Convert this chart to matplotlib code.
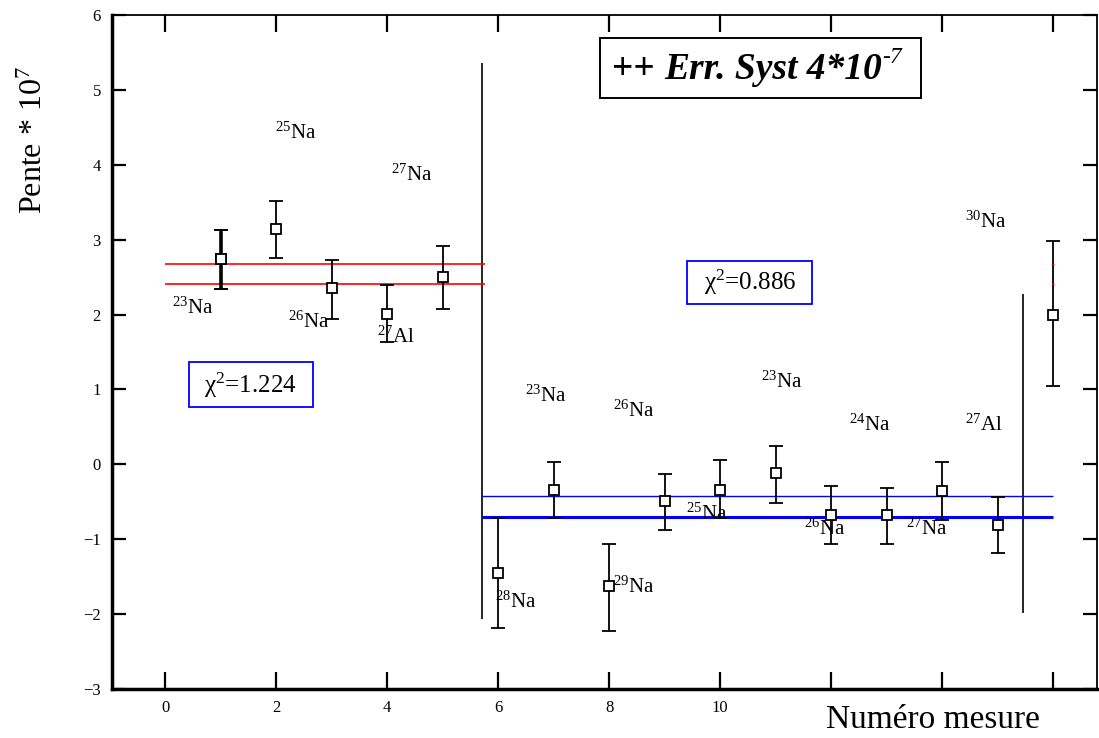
import matplotlib
matplotlib.use("Agg")
import matplotlib.pyplot as plt
from matplotlib.patches import Rectangle

plt.rcParams['font.family'] = ['Liberation Serif', 'DejaVu Serif']
plt.rcParams['mathtext.fontset'] = 'custom'
plt.rcParams['mathtext.rm'] = 'Liberation Serif'
plt.rcParams['mathtext.it'] = 'Liberation Serif:italic'
plt.rcParams['mathtext.bf'] = 'Liberation Serif:bold'

# ---- data ----
meas_x = [1, 2, 3, 4, 5, 6, 7, 8, 9, 10, 11, 12, 13, 14, 15, 16]
slope = [2.74, 3.14, 2.35, 2.01, 2.50, -1.45, -0.34, -1.63, -0.49, -0.34,
         -0.12, -0.67, -0.67, -0.36, -0.81, 2.00]
err_low = [2.34, 2.75, 1.94, 1.63, 2.07, -2.18, -0.72, -2.22, -0.88, -0.72,
           -0.52, -1.07, -1.07, -0.74, -1.18, 1.05]
err_high = [3.13, 3.51, 2.73, 2.39, 2.92, -0.72, 0.03, -1.07, -0.13, 0.06,
            0.24, -0.29, -0.32, 0.03, -0.43, 2.98]

red_levels = [2.67, 2.41]
red_span = [0.0, 5.77]
blue_levels = [-0.42, -0.70]
blue_widths = [1.0, 2.2]
blue_span = [5.71, 16.0]

sep_x = [5.71, 15.46]
sep_low = [-2.07, -1.99]
sep_high = [5.36, 2.28]

labels = ["23", "25", "26", "27", "27",
          "23", "26", "23", "24", "27", "30",
          "25", "26", "27", "28", "29"]
label_elem = ["Na", "Na", "Na", "Al", "Na",
              "Na", "Na", "Na", "Na", "Al", "Na",
              "Na", "Na", "Na", "Na", "Na"]
label_x = [0.12, 1.98, 2.22, 3.82, 4.08,
           6.48, 8.07, 10.73, 12.32, 14.41, 14.41,
           9.38, 11.52, 13.35, 5.95, 8.07]
label_y = [2.08, 4.42, 1.90, 1.70, 3.86,
           0.91, 0.71, 1.10, 0.52, 0.52, 3.23,
           -0.67, -0.86, -0.86, -1.84, -1.64]

chi_values = ["1.224", "0.886"]
chi_box_x = [(0.43, 2.66), (9.41, 11.66)]
chi_box_y = [(0.76, 1.36), (2.14, 2.72)]

xticks = [0, 2, 4, 6, 8, 10, 12, 14, 16]
xticklabels = ["0", "2", "4", "6", "8", "10", "", "", ""]
yticks = [-3, -2, -1, 0, 1, 2, 3, 4, 5, 6]

# ---- figure ----
fig = plt.figure(figsize=(10.99, 7.38), dpi=100)
ax = fig.add_axes([112/1099, 1-689/738, (1097-112)/1099, (689-15)/738])
ax.set_xlim(-0.955, 16.79)
ax.set_ylim(-3, 6)

# separators
ax.vlines(sep_x, sep_low, sep_high, colors='black', lw=1.2, zorder=2)

# fit lines
ax.hlines(red_levels, red_span[0], red_span[1], colors='red', lw=1.2, zorder=3)
for lev, w in zip(blue_levels, blue_widths):
    ax.hlines(lev, blue_span[0], blue_span[1], colors='blue', lw=w, zorder=3)
ax.hlines(red_levels, 15.98, 16.02, colors='red', lw=1.0, zorder=5)

# error bars
lo = [s - l for s, l in zip(slope, err_low)]
hi = [h - s for s, h in zip(slope, err_high)]
ax.errorbar(meas_x, slope, yerr=[lo, hi], fmt='s', mfc='white', mec='black',
            mew=1.3, ms=7, ecolor='black', elinewidth=1.3, capsize=5,
            capthick=1.6, zorder=4)
ax.errorbar(meas_x[:1], slope[:1], yerr=[lo[:1], hi[:1]], fmt='s', mfc='white',
            mec='black', mew=1.3, ms=7, ecolor='black', elinewidth=2.6,
            capsize=5, capthick=2.2, zorder=4)

# nucleus labels
for a, e, x, y in zip(labels, label_elem, label_x, label_y):
    ax.text(x, y, r"$^{%s}$%s" % (a, e), fontsize=15, ha='left', va='center',
            zorder=6)

# chi2 boxes
for v, (x0, x1), (y0, y1) in zip(chi_values, chi_box_x, chi_box_y):
    ax.add_patch(Rectangle((x0, y0), x1 - x0, y1 - y0, fc='white', ec='blue',
                           lw=1.3, zorder=5))
    ax.text((x0 + x1) / 2, (y0 + y1) / 2, "χ$^{2}$=" + v, fontsize=18,
            ha='center', va='center', zorder=6)

# systematic error box
ax.add_patch(Rectangle((7.83, 4.89), 13.62 - 7.83, 5.69 - 4.89, fc='white',
                       ec='black', lw=1.4, zorder=5))
t1 = ax.text(8.05, 5.27, "++ ", fontsize=27, fontweight='bold', ha='left',
             va='center', zorder=6)
t2 = ax.annotate("Err. Syst 4*10", xy=(1, 0), xycoords=t1, fontsize=27,
                 fontweight='bold', fontstyle='italic', ha='left', va='bottom',
                 zorder=6)
t3 = ax.annotate("-7", xy=(1, 0.55), xycoords=t2, fontsize=17,
                 fontstyle='italic', ha='left', va='bottom', zorder=6)

# axes styling
ax.set_xticks(xticks)
ax.set_xticklabels(xticklabels)
ax.set_yticks(yticks)
ax.tick_params(axis='both', direction='in', length=12, width=1.6,
               labelsize=12, top=True, right=True, pad=8)
ax.tick_params(axis='y', right=True, length=10)
for side, w in [('left', 2.5), ('bottom', 2.5), ('top', 1.3), ('right', 1.3)]:
    ax.spines[side].set_linewidth(w)

fig.text(826/1099, 1-720/738, "Numéro mesure", fontsize=24, ha='left',
         va='center')
fig.text(34/1099, 1-140/738, r"Pente * 10$^{7}$", fontsize=23, rotation=90,
         ha='center', va='center')

fig.savefig("out.png", dpi=100)
